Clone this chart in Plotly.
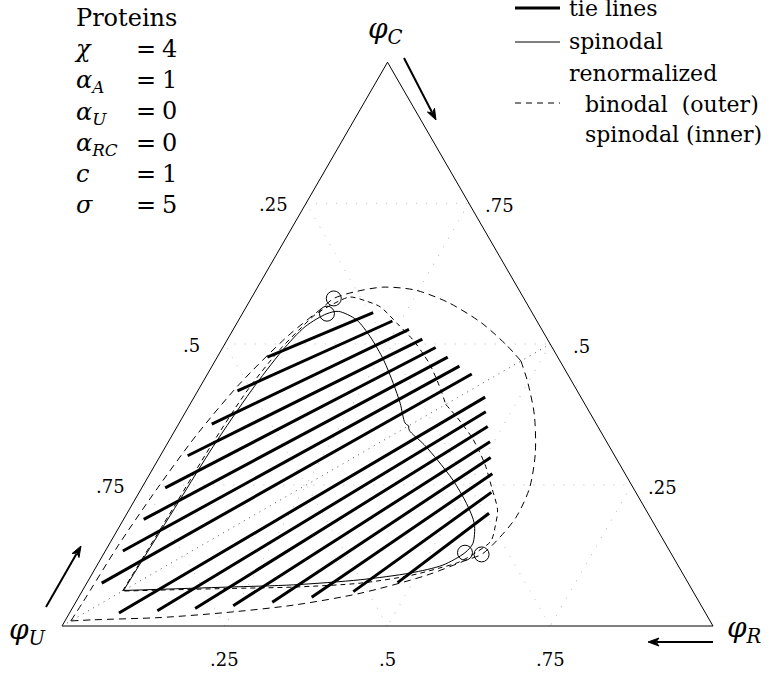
import plotly.graph_objects as go

W, H = 770, 674

# ---- model parameters shown in the corner ----
param_title = "Proteins"
param_symbols = ["<i>χ</i>", "<i>α</i><sub><i>A</i></sub>", "<i>α</i><sub><i>U</i></sub>",
                 "<i>α</i><sub><i>RC</i></sub>", "<i>c</i>", "<i>σ</i>"]
param_values = ["4", "1", "0", "0", "1", "5"]

# ---- edge tick labels ----
tick_vals = [0.25, 0.5, 0.75]
tick_text = [".25", ".5", ".75"]

# ---- tie lines: U-rich end and U-poor end, as (phi_C, phi_R) ----
tie_rich_C = [0.477, 0.417, 0.358, 0.302, 0.245, 0.189, 0.133, 0.076,
              0.023, 0.027, 0.031, 0.036, 0.042, 0.051, 0.061, 0.077]
tie_rich_R = [0.077, 0.061, 0.051, 0.042, 0.036, 0.031, 0.027, 0.023,
              0.076, 0.133, 0.189, 0.245, 0.302, 0.358, 0.417, 0.477]
tie_poor_C = [0.556, 0.541, 0.526, 0.509, 0.494, 0.477, 0.461, 0.447,
              0.406, 0.380, 0.354, 0.327, 0.299, 0.270, 0.237, 0.200]
tie_poor_R = [0.200, 0.237, 0.270, 0.299, 0.327, 0.354, 0.380, 0.406,
              0.447, 0.461, 0.477, 0.494, 0.509, 0.526, 0.541, 0.556]

# ---- spinodal (solid), C-rich half and R-rich half ----
spin_c_side_C = [0.063, 0.219, 0.319, 0.417, 0.488, 0.531, 0.554, 0.558,
                 0.543, 0.513, 0.472, 0.430, 0.395, 0.360, 0.355]
spin_c_side_R = [0.063, 0.069, 0.073, 0.082, 0.094, 0.108, 0.130, 0.146,
                 0.181, 0.217, 0.258, 0.294, 0.322, 0.347, 0.355]
spin_r_side_C = [0.355, 0.347, 0.322, 0.294, 0.258, 0.217, 0.181, 0.146,
                 0.130, 0.108, 0.094, 0.082, 0.073, 0.069, 0.063]
spin_r_side_R = [0.355, 0.360, 0.395, 0.430, 0.472, 0.513, 0.543, 0.558,
                 0.554, 0.531, 0.488, 0.417, 0.319, 0.219, 0.063]

# ---- renormalized binodal (outer dashed) ----
bin_c_side_C = [0.009, 0.043, 0.143, 0.241, 0.337, 0.429, 0.515, 0.563,
                0.581, 0.592, 0.601, 0.596, 0.574, 0.538, 0.498, 0.470]
bin_c_side_R = [0.009, 0.011, 0.015, 0.024, 0.037, 0.058, 0.090, 0.117,
                0.127, 0.151, 0.192, 0.244, 0.306, 0.375, 0.434, 0.470]
bin_r_side_C = [0.470, 0.434, 0.375, 0.306, 0.244, 0.192, 0.151, 0.127,
                0.117, 0.090, 0.058, 0.037, 0.024, 0.015, 0.011, 0.009]
bin_r_side_R = [0.470, 0.498, 0.538, 0.574, 0.596, 0.601, 0.592, 0.581,
                0.563, 0.515, 0.429, 0.337, 0.241, 0.143, 0.043, 0.009]

# ---- renormalized spinodal (inner dashed) ----
rsp_c_side_C = [0.062, 0.220, 0.320, 0.420, 0.490, 0.529, 0.552, 0.570,
                0.5835, 0.577, 0.566, 0.537, 0.507, 0.484, 0.463, 0.436,
                0.417, 0.393]
rsp_c_side_R = [0.062, 0.0665, 0.069, 0.076, 0.0895, 0.103, 0.1126, 0.1295,
                0.1506, 0.177, 0.206, 0.246, 0.286, 0.312, 0.334, 0.358,
                0.374, 0.393]
rsp_r_side_C = [0.393, 0.374, 0.358, 0.334, 0.312, 0.286, 0.246, 0.206,
                0.177, 0.1506, 0.1295, 0.1126, 0.103, 0.0895, 0.076, 0.069,
                0.0665, 0.062]
rsp_r_side_R = [0.393, 0.417, 0.436, 0.463, 0.484, 0.507, 0.537, 0.566,
                0.577, 0.5835, 0.570, 0.552, 0.529, 0.490, 0.420, 0.320,
                0.220, 0.062]

# ---- critical points (open circles) ----
crit_spin_C = [0.554, 0.130]
crit_spin_R = [0.130, 0.554]
crit_bin_C = [0.581, 0.127]
crit_bin_R = [0.127, 0.581]

# symmetry line phi_C = phi_R from the U corner
sym_C = [0.0, 0.5]
sym_R = [0.0, 0.5]

FONT = "DejaVu Serif"

# triangle placement on the page (pixels)
X_U, X_R, Y_BASE = 62.0, 713.0, 626.0
SIDE = X_R - X_U
HEIGHT = SIDE * 3 ** 0.5 / 2


def ternary_trace(phiC, phiR, **kw):
    phiU = [1 - c - r for c, r in zip(phiC, phiR)]
    return go.Scatterternary(a=phiC, b=phiU, c=phiR, hoverinfo="skip",
                             showlegend=False, **kw)


fig = go.Figure()

fig.add_trace(ternary_trace(sym_C, sym_R, mode="lines",
                            line=dict(color="#555555", width=1, dash="1px,5px")))

for cC, cR, pC, pR in zip(tie_rich_C, tie_rich_R, tie_poor_C, tie_poor_R):
    fig.add_trace(ternary_trace([cC, pC], [cR, pR], mode="lines",
                                line=dict(color="black", width=3)))

for C, R in [(spin_c_side_C, spin_c_side_R), (spin_r_side_C, spin_r_side_R)]:
    fig.add_trace(ternary_trace(C, R, mode="lines",
                                line=dict(color="black", width=1, shape="spline",
                                          smoothing=0.8)))

for C, R in [(bin_c_side_C, bin_c_side_R), (bin_r_side_C, bin_r_side_R)]:
    fig.add_trace(ternary_trace(C, R, mode="lines",
                                line=dict(color="black", width=1, shape="spline",
                                          smoothing=0.8, dash="7px,5px")))

for C, R in [(rsp_c_side_C, rsp_c_side_R), (rsp_r_side_C, rsp_r_side_R)]:
    fig.add_trace(ternary_trace(C, R, mode="lines",
                                line=dict(color="black", width=1, shape="spline",
                                          smoothing=0.8, dash="5px,4px")))

for C, R in [(crit_spin_C, crit_spin_R), (crit_bin_C, crit_bin_R)]:
    fig.add_trace(ternary_trace(C, R, mode="markers",
                                marker=dict(symbol="circle-open", size=15,
                                            color="black", line=dict(width=1))))


def axis_style():
    return dict(
        title=dict(text=""),
        tickmode="array", tickvals=tick_vals, showticklabels=False, ticks="",
        showline=True, linecolor="black", linewidth=1,
        showgrid=True, gridcolor="#bdbdbd", gridwidth=1, griddash="1px,9px",
        layer="below traces",
    )


fig.update_layout(
    width=W, height=H,
    margin=dict(l=0, r=0, t=0, b=0),
    paper_bgcolor="white",
    font=dict(family=FONT, color="black"),
    showlegend=False,
    ternary=dict(
        sum=1,
        domain=dict(x=[X_U / W, X_R / W], y=[1 - Y_BASE / H, 1 - (Y_BASE - HEIGHT) / H]),
        bgcolor="white",
        aaxis=axis_style(), baxis=axis_style(), caxis=axis_style(),
    ),
)


def px(x, y):
    return x / W, 1 - y / H


def edge_point(phiC, phiR):
    return X_U + SIDE * (phiR + phiC / 2), Y_BASE - HEIGHT * phiC


ann = []


def text(x, y, s, size, xanchor="left", align="left"):
    xp, yp = px(x, y)
    ann.append(dict(x=xp, y=yp, xref="paper", yref="paper", text=s, align=align,
                    showarrow=False, xanchor=xanchor, yanchor="middle",
                    font=dict(family=FONT, size=size, color="black")))


# edge tick labels: left edge carries phi_U, right edge phi_C, bottom phi_R
for v, t in zip(tick_vals, tick_text):
    ex, ey = edge_point(1 - v, 0.0)
    text(ex - 33, ey + 1, t, 18, xanchor="center")
    ex, ey = edge_point(v, 1 - v)
    text(ex + 31, ey + 2, t, 18, xanchor="center")
    ex, ey = edge_point(0.0, v)
    text(ex, ey + 33, t, 18, xanchor="center")

# parameter block, three aligned columns
text(72, 111.5, "<br>".join([param_title] + param_symbols), 24)
text(146, 127, "<br>".join(["="] * len(param_values)), 24, xanchor="center", align="center")
text(169, 127, "<br>".join(param_values), 24, xanchor="center", align="center")

# vertex labels
text(386, 31, "<i>φ</i><sub><i>C</i></sub>", 28, xanchor="center")
text(28, 631, "<i>φ</i><sub><i>U</i></sub>", 28, xanchor="center")
text(744, 629, "<i>φ</i><sub><i>R</i></sub>", 28, xanchor="center")

# legend
text(567, 9, "tie lines", 22)
text(567, 41, "spinodal", 22)
text(567, 73, "renormalized", 22)
text(583, 104, "binodal  (outer)", 22)
text(583, 135, "spinodal (inner)", 22)

shapes = []
for y, w, dash in [(8, 3, "solid"), (42, 1, "solid"), (103, 1, "6px,5px")]:
    x0, y0 = px(515, y)
    x1, _ = px(560, y)
    shapes.append(dict(type="line", xref="paper", yref="paper", x0=x0, x1=x1,
                       y0=y0, y1=y0, line=dict(color="black", width=w, dash=dash)))


# direction arrows along the edges
def arrow(tx, ty, hx, hy, head=11, half=4.0):
    dx, dy = hx - tx, hy - ty
    n = (dx * dx + dy * dy) ** 0.5
    ux, uy = dx / n, dy / n
    bx, by = hx - ux * head, hy - uy * head
    x0, y0 = px(tx, ty)
    x1, y1 = px(bx + ux * 2, by + uy * 2)
    shapes.append(dict(type="line", xref="paper", yref="paper", x0=x0, y0=y0,
                       x1=x1, y1=y1, line=dict(color="black", width=2)))
    pts = [(hx, hy), (bx - uy * half, by + ux * half), (bx + ux * 3, by + uy * 3),
           (bx + uy * half, by - ux * half)]
    path = "M " + " L ".join(f"{px(x, y)[0]:.5f},{px(x, y)[1]:.5f}" for x, y in pts) + " Z"
    shapes.append(dict(type="path", xref="paper", yref="paper", path=path,
                       fillcolor="black", line=dict(color="black", width=1)))


arrow(404, 58, 436, 120)
arrow(46, 607, 81, 546)
arrow(713, 642, 648, 642)

fig.update_layout(annotations=ann, shapes=shapes)
fig.write_html("out.html")
